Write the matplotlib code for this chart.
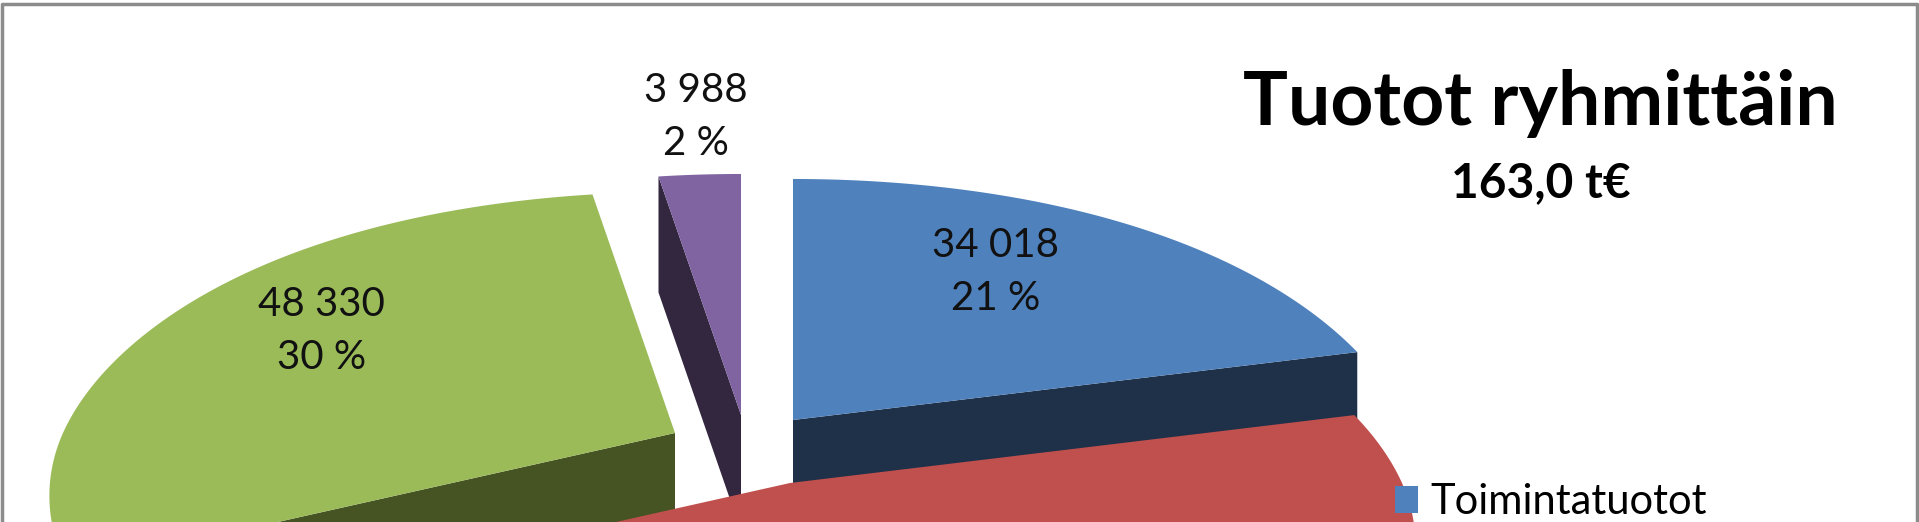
import numpy as np
import matplotlib
matplotlib.use('Agg')
import matplotlib.pyplot as plt
from matplotlib.patches import Polygon, Patch

plt.rcParams['font.family'] = ['Lato', 'DejaVu Sans']

values = [34018, 76664, 48330, 3988]
total_text = '163,0 t€'
title_text = 'Tuotot ryhmittäin'
legend_name = 'Toimintatuotot'

top_colors = ['#4F81BD', '#C0504D', '#9BBB59', '#8064A2']
side_colors = ['#1F3049', '#7A2E2C', '#465423', '#33263F']

# tilted pie geometry, in pixels
rx = 612
ry = 272.8
persp_y = 0.1165
depth = 116
apex = [(793, 420), (790, 483), (675, 433), (741, 415)]
label_pos = [(996, 272), None, (321.5, 331), (696, 117)]
# which end of the slice shows its cut face (None = hidden)
side_end = [-1, None, 0, 0]


def rim(t, ap):
    u = np.sin(t)
    v = np.cos(t)
    x = ap[0] + rx * u * (1 - 0.2 * v + 0.08 * v ** 2)
    y = ap[1] - ry * v * (1 - persp_y * v + 0.25 * np.clip(-v, 0, None))
    return np.column_stack([x, y])


fig = plt.figure(figsize=(19.19, 5.22), dpi=100)
ax = fig.add_axes([0, 0, 1, 1])
ax.set_xlim(0, 1919)
ax.set_ylim(522, 0)
ax.axis('off')

edges = np.concatenate([[0], np.cumsum(values)]) / sum(values) * 2 * np.pi

# back slices first, red is in front of everything
for z, i in enumerate([3, 2, 0, 1]):
    t = np.linspace(edges[i], edges[i + 1], 200)
    pts = rim(t, apex[i])
    ap = np.array(apex[i], dtype=float)
    down = np.array([0, depth])
    if side_end[i] is not None:
        end = pts[side_end[i]]
        side = [ap, end, end + down, ap + down]
        ax.add_patch(Polygon(side, closed=True, fc=side_colors[i], ec='none', zorder=2 + z))
    ax.add_patch(Polygon(np.vstack([ap, pts]), closed=True, fc=top_colors[i], ec='none', zorder=2 + z))

for i, pos in enumerate(label_pos):
    if pos is None:
        continue
    val = f'{values[i]:,}'.replace(',', ' ')
    pct = round(values[i] / sum(values) * 100)
    ax.text(pos[0], pos[1], f'{val}\n{pct} %', ha='center', va='center', fontsize=29,
            color='#111111', linespacing=1.55, zorder=10)

ax.text(1540, 125, title_text, ha='center', va='baseline', fontsize=54, fontweight='bold', color='black')
ax.text(1541, 197, total_text, ha='center', va='baseline', fontsize=34.5, fontweight='bold', color='black')

leg = ax.legend(handles=[Patch(fc=top_colors[0], ec='none')], labels=[legend_name],
                loc='upper left', bbox_to_anchor=(1395 / 1919, 1 - 483 / 522), frameon=False,
                fontsize=30, handlelength=0.55, handleheight=0.62, handletextpad=0.29,
                borderpad=0, borderaxespad=0)
leg.set_zorder(12)

# grey frame of the chart area, the bottom is cut off
ax.plot([1.5, 1.5, 1916.5, 1916.5], [522, 4, 4, 522], color='#8C8C8C', lw=2.5, zorder=20)

fig.savefig('out.png', dpi=100)
